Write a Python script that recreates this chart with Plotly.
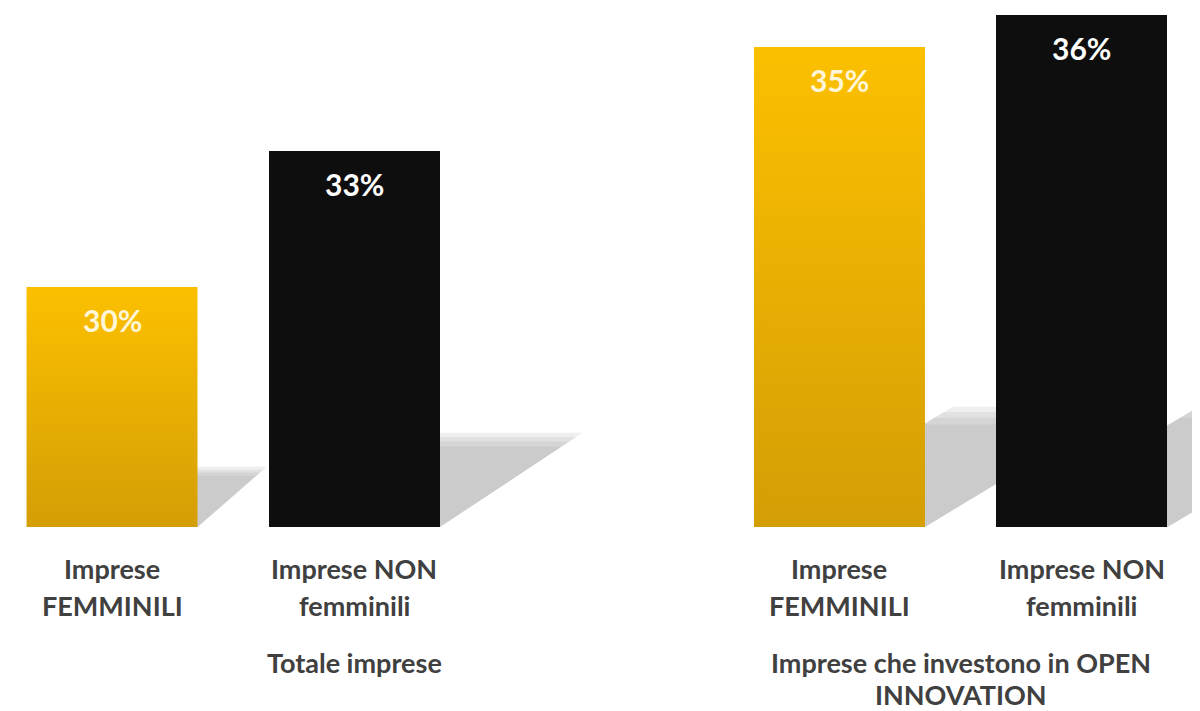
import plotly.graph_objects as go

# ---- data ----
categories = ["Imprese<br>FEMMINILI", "Imprese NON<br>femminili",
              "Imprese<br>FEMMINILI", "Imprese NON<br>femminili"]
values = [30.0, 33.0, 35.3, 36.0]
value_labels = ["30%", "33%", "35%", "36%"]
groups = ["Totale imprese", "Imprese che investono in OPEN<br>INNOVATION"]

# ---- layout / style ----
x_pos = [0, 1, 3, 4]
group_x = [1, 3.5]
is_yellow = [True, False, True, False]
bar_width = 0.705
W, H = 1192, 703          # page body adds an 8px margin
M_BOTTOM = 184
Y_MIN, Y_MAX = 24.7, 36.16
X_MIN, X_MAX = -0.429, 4.487
YELLOW_TOP = "rgb(252,192,0)"
YELLOW_BOT = "rgb(212,158,6)"
BLACK = "#0e0e0e"
TXT = "#404040"
FONT = "Lato"

px_per_x = W / (X_MAX - X_MIN)
px_per_y = (H - M_BOTTOM) / (Y_MAX - Y_MIN)

fig = go.Figure()

# perspective shadows (below traces), soft edges via stacked layers
shapes = []
for xp, v in zip(x_pos, values):
    h_px = (v - Y_MIN) * px_per_y
    rise_px = 0.232 * h_px
    shift_px = max(0.5 * h_px - 56, 40)
    L, R = xp - bar_width / 2, xp + bar_width / 2
    for scale in [1.08, 1.03, 0.98, 0.92]:
        rise = rise_px * scale / px_per_y
        shift = shift_px * scale / px_per_x
        path = (f"M {L},{Y_MIN} L {R},{Y_MIN} L {R+shift},{Y_MIN+rise} "
                f"L {L+shift},{Y_MIN+rise} Z")
        shapes.append(dict(type="path", path=path, xref="x", yref="y",
                           fillcolor="rgba(150,150,150,0.15)",
                           line=dict(width=0), layer="below"))

fig.add_trace(go.Bar(
    x=x_pos, y=[v - Y_MIN for v in values], base=Y_MIN,
    width=bar_width,
    marker=dict(color=[("rgb(232,175,3)" if y else BLACK) for y in is_yellow],
                line=dict(width=0)),
    hoverinfo="skip", showlegend=False,
))

# gradient overlay for yellow bars
for xp, v, y in zip(x_pos, values, is_yellow):
    if not y:
        continue
    L, R = xp - bar_width / 2, xp + bar_width / 2
    fig.add_trace(go.Scatter(
        x=[L, R, R, L, L], y=[Y_MIN, Y_MIN, v, v, Y_MIN],
        mode="lines", fill="toself", line=dict(width=0),
        fillgradient=dict(type="vertical",
                          colorscale=[[0, YELLOW_BOT], [1, YELLOW_TOP]]),
        hoverinfo="skip", showlegend=False,
    ))

annotations = []
for xp, v, lab, y in zip(x_pos, values, value_labels, is_yellow):
    annotations.append(dict(
        x=xp, y=v, xref="x", yref="y", text=f"<b>{lab}</b>", showarrow=False,
        yanchor="middle", yshift=-33,
        font=dict(family=FONT, size=30,
                  color="rgb(255,246,215)" if y else "white"),
    ))

line_shifts = [-41, -78]
for xp, cat in zip(x_pos, categories):
    for i, line in enumerate(cat.split("<br>")):
        annotations.append(dict(
            x=xp, y=0, xref="x", yref="paper", text=f"<b>{line}</b>",
            showarrow=False, yanchor="middle", yshift=line_shifts[i],
            font=dict(family=FONT, size=27, color=TXT),
        ))

group_shifts = [-135, -167]
for gx, g in zip(group_x, groups):
    for i, line in enumerate(g.split("<br>")):
        annotations.append(dict(
            x=gx, y=0, xref="x", yref="paper", text=f"<b>{line}</b>",
            showarrow=False, yanchor="middle", yshift=group_shifts[i],
            font=dict(family=FONT, size=27, color=TXT),
        ))

fig.update_layout(
    width=W, height=H,
    margin=dict(l=0, r=0, t=0, b=M_BOTTOM),
    paper_bgcolor="white", plot_bgcolor="white",
    shapes=shapes, annotations=annotations,
    showlegend=False, bargap=0,
    xaxis=dict(range=[X_MIN, X_MAX], visible=False, fixedrange=True),
    yaxis=dict(range=[Y_MIN, Y_MAX], visible=False, fixedrange=True),
)

fig.write_html("out.html")
